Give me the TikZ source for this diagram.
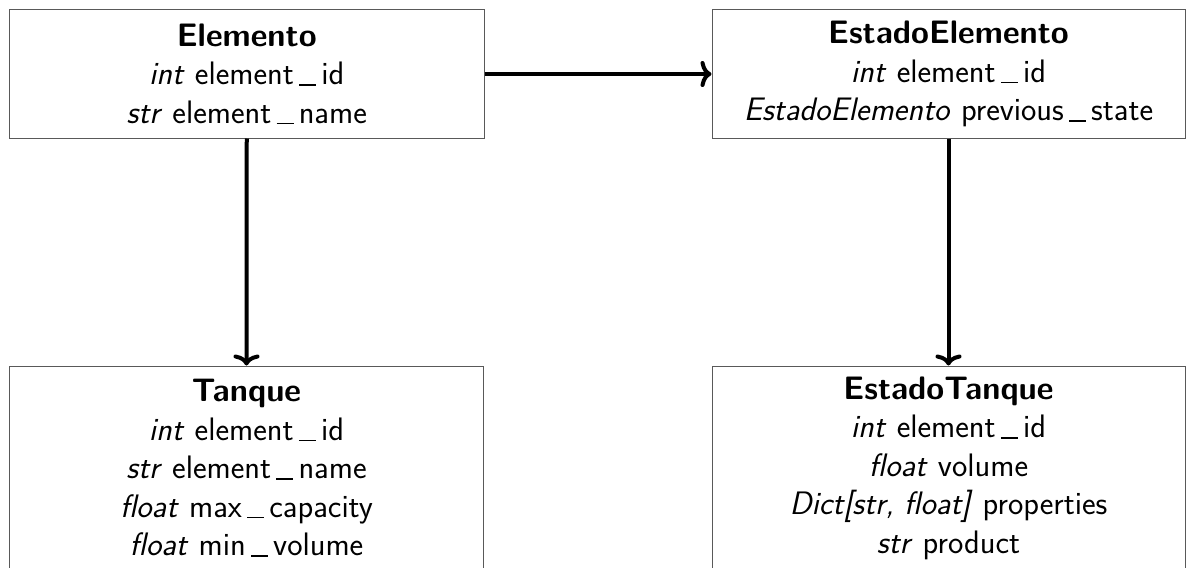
\documentclass[tikz,border=0pt]{standalone}
\usetikzlibrary{arrows.meta}
% underscore drawn as a thin rule just under the baseline
\newcommand\usc{\kern.16em\lower1pt\vbox{\hrule height 1.5pt width .52em}\kern.16em}
\begin{document}
\begin{tikzpicture}[x=1pt,y=-1pt,
  classbox/.style={draw=black!65,line width=1pt,align=center,inner sep=0pt,
    font=\sffamily\fontsize{32.5}{38.5}\selectfont},
  link/.style={line width=4pt,-{To[length=11pt,width=26pt]}}]
  \useasboundingbox (0,0) rectangle (1190,567);
  % class boxes
  \node[classbox,minimum width=474.5pt,minimum height=128pt] (elem) at (246.75,74)
    {\textbf{Elemento}\\\textit{int} element\usc id\\\textit{str} element\usc name};
  \node[classbox,minimum width=473pt,minimum height=128pt] (estel) at (948.5,74)
    {\textbf{EstadoElemento}\\\textit{int} element\usc id\\\textit{EstadoElemento} previous\usc state};
  \node[classbox,minimum width=474pt,minimum height=204pt] (tanque) at (246.5,468)
    {\textbf{Tanque}\\\textit{int} element\usc id\\\textit{str} element\usc name\\\textit{float} max\usc capacity\\\textit{float} min\usc volume};
  \node[classbox,minimum width=473pt,minimum height=204pt] (esttq) at (948.5,468)
    {\textbf{EstadoTanque}\\\textit{int} element\usc id\\\textit{float} volume\\\textit{Dict[str, float]} properties\\\textit{str} product};
  % relations
  \draw[link] (elem.east) -- (estel.west);
  \draw[link] (elem.south) -- (tanque.north);
  \draw[link] (estel.south) -- (esttq.north);
\end{tikzpicture}
\end{document}
